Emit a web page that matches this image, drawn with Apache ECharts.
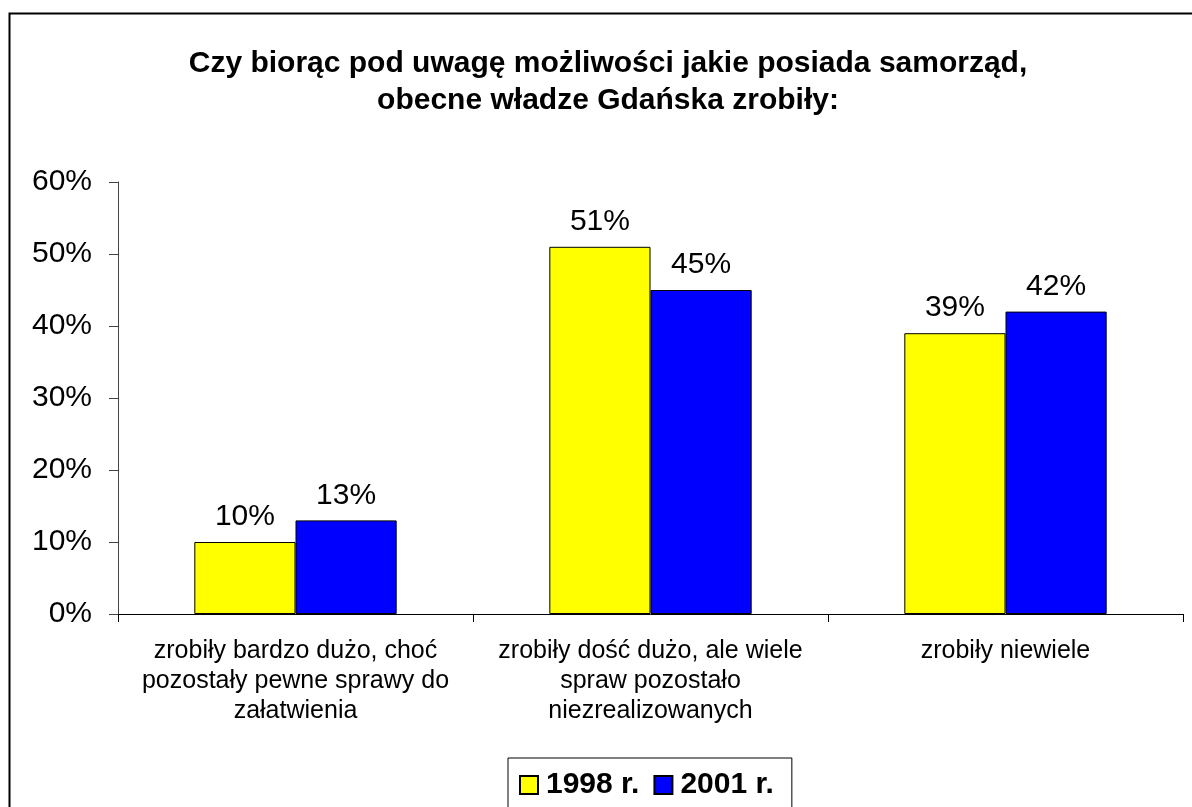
<!DOCTYPE html>
<html>
<head>
<meta charset="utf-8">
<style>
  html, body { margin: 0; padding: 0; background: #fff; }
  #chart { width: 1192px; height: 807px; }
</style>
<script src="https://cdn.jsdelivr.net/npm/echarts@6/dist/echarts.min.js"></script>
</head>
<body>
<div id="chart"></div>
<script>
// Answer categories (line breaks as printed under the axis)
const categories = [
  'zrobiły bardzo dużo, choć\npozostały pewne sprawy do\nzałatwienia',
  'zrobiły dość dużo, ale wiele\nspraw pozostało\nniezrealizowanych',
  'zrobiły niewiele'
];
// Survey years
const seriesNames = ['1998 r.', '2001 r.'];
// Share of answers, percent
const values1998 = [10, 51, 39];
const values2001 = [13, 45, 42];
// Value axis range and step, percent
const yMin = 0, yMax = 60, yStep = 10;

const FONT = '"Liberation Sans", Arial, sans-serif';
const chart = echarts.init(document.getElementById('chart'), null, { renderer: 'canvas' });

const barLabel = {
  show: true,
  position: 'top',
  distance: 10,
  color: '#000',
  fontFamily: FONT,
  fontSize: 30,
  formatter: p => p.value + '%'
};

chart.setOption({
  backgroundColor: '#fff',
  animation: false,
  title: {
    text: 'Czy biorąc pod uwagę możliwości jakie posiada samorząd,\nobecne władze Gdańska zrobiły:',
    left: 603,
    top: 40,
    textAlign: 'center',
    textStyle: {
      fontFamily: FONT,
      fontWeight: 'bold',
      fontSize: 30,
      lineHeight: 37,
      color: '#000'
    }
  },
  legend: {
    data: seriesNames,
    left: 508,
    top: 758,
    itemWidth: 18,
    itemHeight: 18,
    itemGap: 14,
    padding: [12, 18, 40, 11],
    borderColor: '#000',
    borderWidth: 1,
    icon: 'rect',
    textStyle: {
      fontFamily: FONT,
      fontWeight: 'bold',
      fontSize: 30,
      lineHeight: 30,
      color: '#000',
      padding: [0, 0, 0, 3]
    }
  },
  grid: {
    left: 118,
    right: 9,
    top: 182,
    bottom: 193,
    containLabel: false
  },
  xAxis: {
    type: 'category',
    data: categories,
    boundaryGap: true,
    axisLine: { show: true, lineStyle: { color: '#000', width: 1 } },
    axisTick: { show: true, length: 8, alignWithLabel: false, lineStyle: { color: '#000' } },
    axisLabel: {
      interval: 0,
      margin: 22,
      color: '#000',
      fontFamily: FONT,
      fontSize: 25,
      lineHeight: 30,
      align: 'center'
    },
    splitLine: { show: false }
  },
  yAxis: {
    type: 'value',
    min: yMin,
    max: yMax,
    interval: yStep,
    axisLine: { show: true, lineStyle: { color: '#444', width: 1 } },
    axisTick: { show: true, length: 9, lineStyle: { color: '#444' } },
    axisLabel: {
      margin: 26,
      color: '#000',
      fontFamily: FONT,
      fontSize: 30,
      formatter: v => v + '%'
    },
    splitLine: { show: false }
  },
  series: [
    {
      name: seriesNames[0],
      type: 'bar',
      data: values1998,
      barGap: '0%',
      barCategoryGap: '43%',
      itemStyle: { color: '#FFFF00', borderColor: '#000', borderWidth: 1 },
      label: barLabel
    },
    {
      name: seriesNames[1],
      type: 'bar',
      data: values2001,
      barGap: '0%',
      barCategoryGap: '43%',
      itemStyle: { color: '#0000FF', borderColor: '#000', borderWidth: 1 },
      label: barLabel
    }
  ],
  graphic: [
    {
      // outer chart frame
      type: 'rect',
      silent: true,
      z: 100,
      shape: { x: 9.5, y: 13.5, width: 1300, height: 900 },
      style: { fill: 'none', stroke: '#000', lineWidth: 2 }
    }
  ]
});
</script>
</body>
</html>
